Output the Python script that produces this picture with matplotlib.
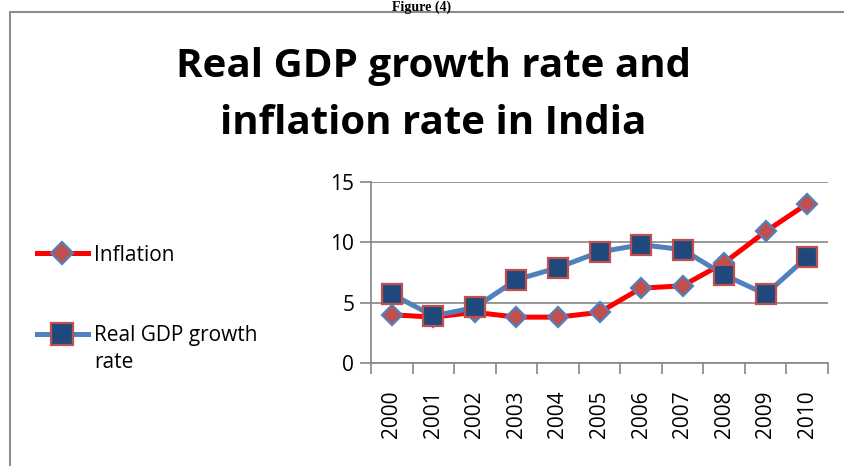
import matplotlib
matplotlib.use("Agg")
import matplotlib.pyplot as plt
from matplotlib.patches import Rectangle

years = ["2000", "2001", "2002", "2003", "2004", "2005", "2006", "2007", "2008", "2009", "2010"]
inflation = [4.0, 3.8, 4.2, 3.8, 3.8, 4.2, 6.2, 6.4, 8.3, 10.9, 13.2]
gdp_growth = [5.7, 3.9, 4.6, 6.9, 7.9, 9.2, 9.8, 9.4, 7.3, 5.7, 8.8]
series_names = ["Inflation", "Real GDP growth rate"]
yticks = [0, 5, 10, 15]

W, H = 844, 466
fig = plt.figure(figsize=(W / 100, H / 100), dpi=100)
fig.patch.set_facecolor("white")

# outer chart border
fig.patches.append(Rectangle((10 / W, -0.05), 1.0, 1 - 12 / H + 0.05, transform=fig.transFigure,
                             fill=False, edgecolor="#8c8c8c", linewidth=1.5))
fig.text(0.5, 1 - 1 / H, "Figure (4)", ha="center", va="top", fontsize=10,
         family="Liberation Serif", fontweight="bold")

fig.text(433 / W, 1 - 67 / H, "Real GDP growth rate and", ha="center", va="center",
         fontsize=29, fontweight="bold", family="Open Sans")
fig.text(433 / W, 1 - 124 / H, "inflation rate in India", ha="center", va="center",
         fontsize=29, fontweight="bold", family="Open Sans")

ax = fig.add_axes([371 / W, 1 - 363 / H, (828 - 371) / W, (363 - 182) / H])
x = list(range(len(years)))
grid_c = "#868686"

l1, = ax.plot(x, inflation, color="#FF0000", linewidth=3.6, marker="D", markersize=10,
              markerfacecolor="#C0504D", markeredgecolor="#4F81BD", markeredgewidth=1.6,
              zorder=3)
l2, = ax.plot(x, gdp_growth, color="#4F81BD", linewidth=3.6, marker="s", markersize=14,
              markerfacecolor="#1F497D", markeredgecolor="#C0504D", markeredgewidth=1.6,
              zorder=4)

ax.set_xlim(-0.5, len(years) - 0.5)
ax.set_ylim(0, 15)
ax.set_yticks(yticks)
ax.set_yticklabels([str(v) for v in yticks], fontsize=15, family="Open Sans")
ax.set_xticks(x)
ax.set_xticklabels(years, rotation=90, fontsize=15, family="Open Sans")
ax.tick_params(axis="x", which="major", length=0, pad=20)
ax.set_xticks([i - 0.5 for i in range(len(years) + 1)], minor=True)
ax.tick_params(axis="x", which="minor", length=8, color=grid_c, width=1.2)
ax.tick_params(axis="y", length=8, color=grid_c, width=1.2, pad=4)
ax.yaxis.grid(True, color=grid_c, linewidth=1.2)
ax.set_axisbelow(True)
for s in ["top", "right"]:
    ax.spines[s].set_visible(False)
for s in ["left", "bottom"]:
    ax.spines[s].set_color(grid_c)
    ax.spines[s].set_linewidth(1.2)

# legend: second label wraps, with the handle aligned to its first line (Excel style)
first_part, rest = series_names[1].rsplit(" ", 1)
leg = fig.legend([l1, l2], [series_names[0], first_part], loc="upper left",
                 bbox_to_anchor=(18 / W, 1 - 226 / H),
                 frameon=False, prop={"family": "Open Sans", "size": 15},
                 handlelength=2.45, handletextpad=0.3, labelspacing=2.85,
                 markerscale=1.1)
fig.canvas.draw()
bb = leg.get_texts()[1].get_window_extent()
fig.text(bb.x0 / W, (bb.y0 - 27) / H, rest, ha="left", va="bottom",
         fontsize=15, family="Open Sans")

fig.savefig("out.png", dpi=100)
